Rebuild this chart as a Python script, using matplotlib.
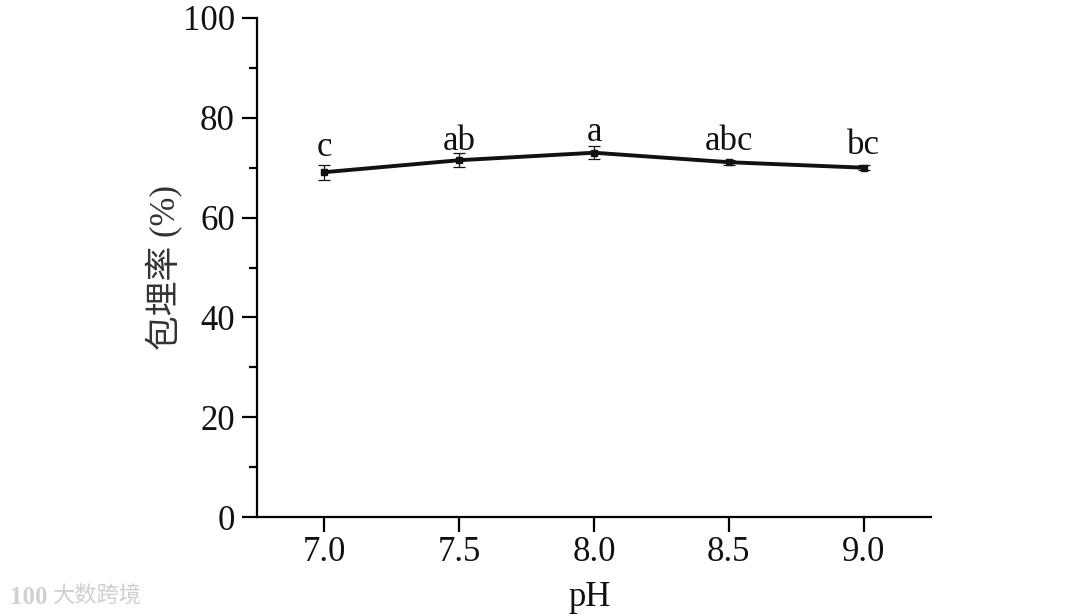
from matplotlib import pyplot as plt
import numpy as np

plt.rcParams['font.family'] = ['Liberation Serif', 'Noto Sans CJK SC']

# data
ph = [7.0, 7.5, 8.0, 8.5, 9.0]
rate = [69.1, 71.5, 73.0, 71.1, 70.0]
err = [1.5, 1.4, 1.3, 0.5, 0.5]
letters = ['c', 'ab', 'a', 'abc', 'bc']
letter_y = [70.8, 72.0, 73.7, 72.0, 71.1]
yticks = [0, 20, 40, 60, 80, 100]

fig = plt.figure(figsize=(10.8, 6.16), dpi=100)
ax = fig.add_axes([257/1080, 1-517/616, (931-257)/1080, (517-18)/616])

# line + error bars
ax.errorbar(ph, rate, yerr=err, color='#111111', lw=2.8, marker='s', ms=5,
            elinewidth=0.9, capsize=4.3, capthick=0.9, clip_on=False)

for x, y, s in zip(ph, letter_y, letters):
    ax.text(x, y, s, ha='center', va='bottom', fontsize=25, color='#111111')

ax.set_xlim(6.75, 9.25)
ax.set_ylim(0, 100)
ax.set_xticks(ph)
ax.set_xticklabels(['7.0', '7.5', '8.0', '8.5', '9.0'])
ax.set_yticks(yticks)
ax.set_yticks(np.arange(10, 100, 20), minor=True)

ax.spines['top'].set_visible(False)
ax.spines['right'].set_visible(False)
ax.spines['left'].set_linewidth(1.6)
ax.spines['bottom'].set_linewidth(1.6)
ax.tick_params(axis='both', which='major', direction='out', length=11, width=1.6,
               labelsize=25, labelcolor='#111111')
ax.tick_params(axis='x', which='major', pad=3)
ax.tick_params(axis='y', which='major', pad=5)
ax.tick_params(axis='y', which='minor', direction='out', length=5.5, width=1.6)

fig.text(165/1080, 1-268/616, '包埋率 (%)', rotation=90, ha='center', va='center',
         fontsize=25, color='#333333')
fig.text(590/1080, 1-597/616, 'pH', ha='center', va='center', fontsize=25, color='#111111')

# watermark bottom left
fig.text(10/1080, 1-597/616, '100', ha='left', va='center', fontsize=18,
         color='#d0d0d0', fontweight='bold')
fig.text(52/1080, 1-597/616, '大数跨境', ha='left', va='center', fontsize=16,
         color='#cfcfcf')

plt.savefig('out.png', dpi=100)
